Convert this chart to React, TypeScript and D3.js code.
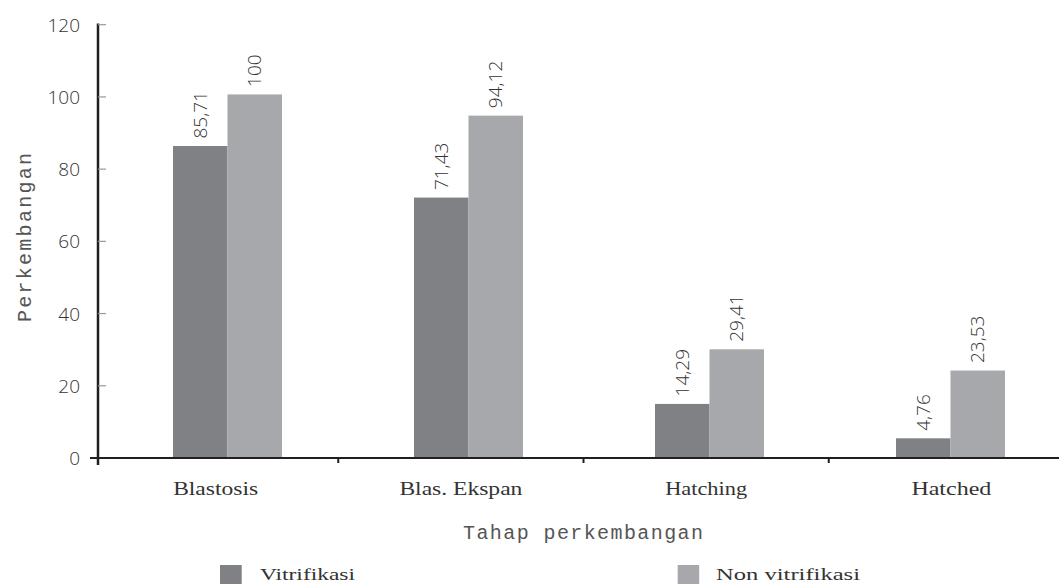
import React from "react";
import * as d3 from "d3";

const categories = ["Blastosis", "Blas. Ekspan", "Hatching", "Hatched"];
const seriesNames = ["Vitrifikasi", "Non vitrifikasi"];
const vitrifikasi = [85.71, 71.43, 14.29, 4.76];
const nonVitrifikasi = [100, 94.12, 29.41, 23.53];
const labelsVit = ["85,71", "71,43", "14,29", "4,76"];
const labelsNon = ["100", "94,12", "29,41", "23,53"];
const yTicks = [0, 20, 40, 60, 80, 100, 120];
const colors = ["#808184", "#a7a8ab"];

const W = 1059;
const H = 584;
const AX = 98;
const Y0 = 458;

export default function App() {
  const y = d3.scaleLinear().domain([0, 120]).range([Y0, 24.7]);
  const x = d3.scaleBand<string>().domain(categories).range([107, 1071]);
  const inner = d3.scaleBand<string>().domain(seriesNames).range([0, 109]);
  const tickX = d3.scaleLinear().domain([0, 4]).range([93, 1074]);
  const series = [vitrifikasi, nonVitrifikasi];
  const labels = [labelsVit, labelsNon];
  const catLen = [85, 123, 82, 80];
  const mono = "'Liberation Mono', 'DejaVu Sans Mono', monospace";
  const serif = "'Liberation Serif', 'DejaVu Serif', serif";
  const sans = "'Open Sans', 'Noto Sans', sans-serif";

  return (
    <svg width={W} height={H} style={{ position: "absolute", left: 0, top: 0, display: "block", background: "#fff" }}>
      {/* bars */}
      {categories.map((c, i) => {
        const gx = x(c)! + x.bandwidth() / 2 - 54.5;
        return (
          <g key={c}>
            {seriesNames.map((s, j) => {
              const v = series[j][i];
              const bx = gx + inner(s)!;
              const bw = inner.bandwidth();
              return (
                <g key={s}>
                  <rect x={bx} y={y(v) - 2.5} width={bw} height={Y0 - y(v) + 2.5} fill={colors[j]} />
                  <text
                    transform={`translate(${bx + bw / 2 + 6.5},${y(v) - 10}) rotate(-90)`}
                    fontFamily={sans}
                    fontWeight={300}
                    fontSize={19}
                    fill="#333"
                  >
                    {labels[j][i]}
                  </text>
                </g>
              );
            })}
          </g>
        );
      })}

      {/* y axis */}
      <line x1={AX} x2={AX} y1={23.5} y2={465} stroke="#231f20" strokeWidth={2.5} />
      {yTicks.map((t) => (
        <g key={t}>
          {t > 0 ? (
            <line x1={AX} x2={AX + 8} y1={y(t)} y2={y(t)} stroke="#999" strokeWidth={1.2} />
          ) : null}
          <text
            x={80}
            y={y(t)}
            textAnchor="end"
            dominantBaseline="central"
            fontFamily={sans}
            fontWeight={300}
            fontSize={19}
            fill="#333"
          >
            {t}
          </text>
        </g>
      ))}

      {/* x axis */}
      <line x1={90} x2={W} y1={Y0} y2={Y0} stroke="#231f20" strokeWidth={2.2} />
      {[1, 2, 3].map((k) => (
        <line key={k} x1={tickX(k)} x2={tickX(k)} y1={Y0} y2={Y0 + 5} stroke="#231f20" strokeWidth={2} />
      ))}
      {categories.map((c, i) => (
        <text
          key={c}
          x={tickX(i + 0.5) - catLen[i] / 2}
          y={495}
          fontFamily={serif}
          fontSize={18}
          fill="#333"
          textLength={catLen[i]}
          lengthAdjust="spacingAndGlyphs"
        >
          {c}
        </text>
      ))}

      {/* axis titles */}
      <text x={463} y={539} fontFamily={mono} fontSize={20} fill="#555" textLength={240} lengthAdjust="spacing">
        Tahap perkembangan
      </text>
      <text
        transform={`translate(31,322) rotate(-90)`}
        fontFamily={mono}
        fontSize={20}
        fill="#555"
        textLength={169}
        lengthAdjust="spacing"
      >
        Perkembangan
      </text>

      {/* legend */}
      <rect x={220} y={565} width={21.7} height={22} fill={colors[0]} />
      <text x={260} y={580} fontFamily={serif} fontSize={17} fill="#333" textLength={95} lengthAdjust="spacingAndGlyphs">
        {seriesNames[0]}
      </text>
      <rect x={677.7} y={565} width={21.5} height={22} fill={colors[1]} />
      <text x={716} y={580} fontFamily={serif} fontSize={17} fill="#333" textLength={144} lengthAdjust="spacingAndGlyphs">
        {seriesNames[1]}
      </text>
    </svg>
  );
}
